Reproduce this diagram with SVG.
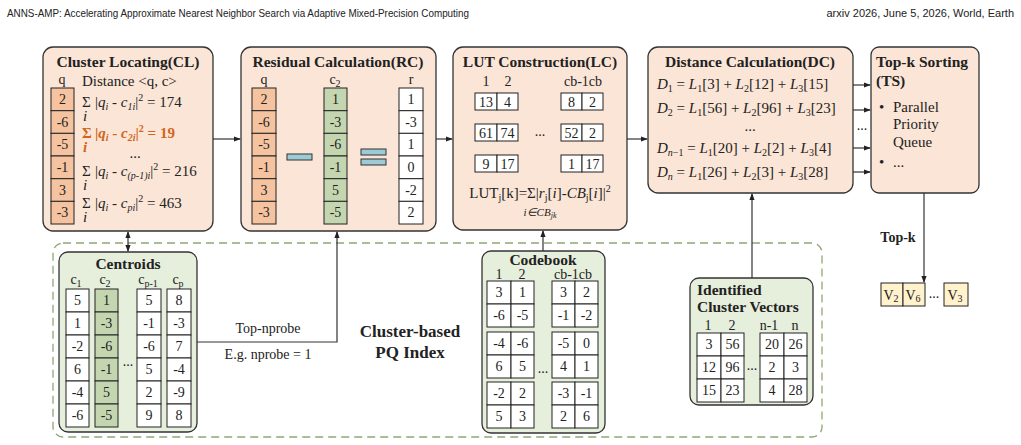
<svg xmlns="http://www.w3.org/2000/svg" width="1021" height="445" viewBox="0 0 1021 445">
<defs>
<marker id="ah" viewBox="0 0 8 8" refX="7" refY="4" markerWidth="6" markerHeight="6" orient="auto-start-reverse"><path d="M0,1 L8,4 L0,7 z" fill="#222"/></marker>
<style>
text{font-family:"Liberation Serif","Times New Roman",serif;fill:#222}
.hdr{font-family:"Liberation Sans",Arial,sans-serif;font-size:11px}
.ttl{font-size:15.5px;font-weight:bold}
.box{fill:#fbe5d6;stroke:#333;stroke-width:1.3}
.gbox{fill:#e6eedc;stroke:#333;stroke-width:1.3}
.c{font-size:14px;text-anchor:middle;dominant-baseline:central}
.lb{font-size:14px;text-anchor:middle}
.w{fill:#fff;stroke:#222;stroke-width:1}
.o{fill:#f5c3a0;stroke:#222;stroke-width:1}
.g{fill:#c4d6b0;stroke:#222;stroke-width:1}
.y{fill:#fff2cc;stroke:#222;stroke-width:1}
.bar{fill:#9ccbd6;stroke:#333;stroke-width:1}
.ln{stroke:#333;stroke-width:1.2;fill:none}
.f{font-size:15px}
.s{font-size:10px}
</style>
</defs>
<text class="hdr" x="7" y="17" textLength="462" lengthAdjust="spacingAndGlyphs">ANNS-AMP: Accelerating Approximate Nearest Neighbor Search via Adaptive Mixed-Precision Computing</text>
<text class="hdr" x="1014" y="17" text-anchor="end">arxiv 2026, June 5, 2026, World, Earth</text>

<rect x="53" y="243" width="769" height="194" rx="10" fill="none" stroke="#8fa874" stroke-width="1.3" stroke-dasharray="8 5"/>
<text x="410" y="337" class="ttl" text-anchor="middle" style="font-size:17px">Cluster-based</text>
<text x="410" y="358" class="ttl" text-anchor="middle" style="font-size:17px">PQ Index</text>

<g id="cl">
<rect class="box" x="43" y="47" width="170" height="184" rx="10"/>
<text class="ttl" x="128" y="67" text-anchor="middle">Cluster Locating(CL)</text>
<text class="lb" x="62" y="84">q</text>
<g class="o"><rect x="51" y="88" width="23" height="22.7"/><rect x="51" y="110.7" width="23" height="22.7"/><rect x="51" y="133.3" width="23" height="22.7"/><rect x="51" y="156" width="23" height="22.7"/><rect x="51" y="178.7" width="23" height="22.7"/><rect x="51" y="201.3" width="23" height="22.7"/></g>
<text class="c" x="62.5" y="99.5">2</text><text class="c" x="62.5" y="122">-6</text><text class="c" x="62.5" y="144.7">-5</text><text class="c" x="62.5" y="167.3">-1</text><text class="c" x="62.5" y="190">3</text><text class="c" x="62.5" y="212.7">-3</text>
<text class="f" x="82" y="86">Distance &lt;q, c&gt;</text>
<text class="f" x="82" y="107">Σ</text><text class="f" x="83" y="121" font-style="italic" font-size="13">i</text>
<text class="f" x="95" y="107">|<tspan font-style="italic">q<tspan class="s" dy="3">i</tspan></tspan><tspan dy="-3"> - </tspan><tspan font-style="italic">c</tspan><tspan class="s" dy="3" font-style="italic">1i</tspan><tspan dy="-3">|</tspan><tspan class="s" dy="-6">2</tspan><tspan dy="6"> = 174</tspan></text>
<text class="f" x="82" y="138" font-weight="bold" style="fill:#d0661e">Σ</text><text class="f" x="83" y="152" font-style="italic" font-weight="bold" style="fill:#d0661e" font-size="13">i</text>
<text class="f" x="95" y="138" font-weight="bold" style="fill:#d0661e">|<tspan font-style="italic">q<tspan class="s" dy="3">i</tspan></tspan><tspan dy="-3"> - </tspan><tspan font-style="italic">c</tspan><tspan class="s" dy="3" font-style="italic">2i</tspan><tspan dy="-3">|</tspan><tspan class="s" dy="-6">2</tspan><tspan dy="6"> = 19</tspan></text>
<text class="f" x="135" y="158" text-anchor="middle">...</text>
<text class="f" x="82" y="176">Σ</text><text class="f" x="83" y="190" font-style="italic" font-size="13">i</text>
<text class="f" x="95" y="176">|<tspan font-style="italic">q<tspan class="s" dy="3">i</tspan></tspan><tspan dy="-3"> - </tspan><tspan font-style="italic">c</tspan><tspan class="s" dy="3" font-style="italic">(p-1)i</tspan><tspan dy="-3">|</tspan><tspan class="s" dy="-6">2</tspan><tspan dy="6"> = 216</tspan></text>
<text class="f" x="82" y="208">Σ</text><text class="f" x="83" y="222" font-style="italic" font-size="13">i</text>
<text class="f" x="95" y="208">|<tspan font-style="italic">q<tspan class="s" dy="3">i</tspan></tspan><tspan dy="-3"> - </tspan><tspan font-style="italic">c</tspan><tspan class="s" dy="3" font-style="italic">pi</tspan><tspan dy="-3">|</tspan><tspan class="s" dy="-6">2</tspan><tspan dy="6"> = 463</tspan></text>
</g>

<g id="rc">
<rect class="box" x="241" y="47" width="195" height="184" rx="10"/>
<text class="ttl" x="338" y="67" text-anchor="middle">Residual Calculation(RC)</text>
<text class="lb" x="264" y="84">q</text><text class="lb" x="335" y="84">c<tspan class="s" dy="3">2</tspan></text><text class="lb" x="411" y="84">r</text>
<g class="o"><rect x="252" y="88" width="24" height="22.7"/><rect x="252" y="110.7" width="24" height="22.7"/><rect x="252" y="133.3" width="24" height="22.7"/><rect x="252" y="156" width="24" height="22.7"/><rect x="252" y="178.7" width="24" height="22.7"/><rect x="252" y="201.3" width="24" height="22.7"/></g>
<g class="g"><rect x="324" y="88" width="23" height="22.7"/><rect x="324" y="110.7" width="23" height="22.7"/><rect x="324" y="133.3" width="23" height="22.7"/><rect x="324" y="156" width="23" height="22.7"/><rect x="324" y="178.7" width="23" height="22.7"/><rect x="324" y="201.3" width="23" height="22.7"/></g>
<g class="w"><rect x="399" y="88" width="24" height="22.7"/><rect x="399" y="110.7" width="24" height="22.7"/><rect x="399" y="133.3" width="24" height="22.7"/><rect x="399" y="156" width="24" height="22.7"/><rect x="399" y="178.7" width="24" height="22.7"/><rect x="399" y="201.3" width="24" height="22.7"/></g>
<text class="c" x="264" y="99.5">2</text><text class="c" x="264" y="122">-6</text><text class="c" x="264" y="144.7">-5</text><text class="c" x="264" y="167.3">-1</text><text class="c" x="264" y="190">3</text><text class="c" x="264" y="212.7">-3</text>
<text class="c" x="335.5" y="99.5">1</text><text class="c" x="335.5" y="122">-3</text><text class="c" x="335.5" y="144.7">-6</text><text class="c" x="335.5" y="167.3">-1</text><text class="c" x="335.5" y="190">5</text><text class="c" x="335.5" y="212.7">-5</text>
<text class="c" x="411" y="99.5">1</text><text class="c" x="411" y="122">-3</text><text class="c" x="411" y="144.7">1</text><text class="c" x="411" y="167.3">0</text><text class="c" x="411" y="190">-2</text><text class="c" x="411" y="212.7">2</text>
<rect class="bar" x="287" y="154" width="25" height="6"/>
<rect class="bar" x="361" y="149" width="25" height="6"/><rect class="bar" x="361" y="159" width="25" height="6"/>
</g>

<g id="lc">
<rect class="box" x="453" y="47" width="174" height="183" rx="10"/>
<text class="ttl" x="540" y="67" text-anchor="middle">LUT Construction(LC)</text>
<text class="lb" x="486" y="86">1</text><text class="lb" x="508" y="86">2</text><text class="lb" x="583" y="86">cb-1cb</text>
<g class="w">
<rect x="475" y="93" width="22" height="17"/><rect x="497" y="93" width="21" height="17"/><rect x="561" y="93" width="21" height="17"/><rect x="582" y="93" width="21" height="17"/>
<rect x="475" y="124" width="22" height="17"/><rect x="497" y="124" width="21" height="17"/><rect x="561" y="124" width="21" height="17"/><rect x="582" y="124" width="21" height="17"/>
<rect x="475" y="155" width="22" height="17"/><rect x="497" y="155" width="21" height="17"/><rect x="561" y="155" width="21" height="17"/><rect x="582" y="155" width="21" height="17"/>
</g>
<text class="c" x="486" y="102">13</text><text class="c" x="507.5" y="102">4</text><text class="c" x="571.5" y="102">8</text><text class="c" x="592.5" y="102">2</text>
<text class="c" x="486" y="133">61</text><text class="c" x="507.5" y="133">74</text><text class="c" x="571.5" y="133">52</text><text class="c" x="592.5" y="133">2</text>
<text class="c" x="486" y="164">9</text><text class="c" x="507.5" y="164">17</text><text class="c" x="571.5" y="164">1</text><text class="c" x="592.5" y="164">17</text>
<text class="lb" x="540" y="136">...</text>
<text class="f" x="540" y="198" text-anchor="middle">LUT<tspan class="s" dy="3">j</tspan><tspan dy="-3">[k]=Σ|</tspan><tspan font-style="italic">r</tspan><tspan class="s" dy="3">j</tspan><tspan dy="-3">[</tspan><tspan font-style="italic">i</tspan>]-<tspan font-style="italic">CB</tspan><tspan class="s" dy="3">j</tspan><tspan dy="-3">[</tspan><tspan font-style="italic">i</tspan>]|<tspan class="s" dy="-6">2</tspan></text>
<text x="540" y="216" text-anchor="middle" font-size="11" font-style="italic">i∈CB<tspan font-size="8" dy="2">jk</tspan></text>
</g>

<g id="dc">
<rect class="box" x="648" y="47" width="205" height="146" rx="10"/>
<text class="ttl" x="750" y="67" text-anchor="middle">Distance Calculation(DC)</text>
<text class="f" x="657" y="89"><tspan font-style="italic">D</tspan><tspan class="s" dy="3">1</tspan><tspan dy="-3"> = </tspan><tspan font-style="italic">L</tspan><tspan class="s" dy="3">1</tspan><tspan dy="-3">[3] + </tspan><tspan font-style="italic">L</tspan><tspan class="s" dy="3">2</tspan><tspan dy="-3">[12] + </tspan><tspan font-style="italic">L</tspan><tspan class="s" dy="3">3</tspan><tspan dy="-3">[15]</tspan></text>
<text class="f" x="657" y="113"><tspan font-style="italic">D</tspan><tspan class="s" dy="3">2</tspan><tspan dy="-3"> = </tspan><tspan font-style="italic">L</tspan><tspan class="s" dy="3">1</tspan><tspan dy="-3">[56] + </tspan><tspan font-style="italic">L</tspan><tspan class="s" dy="3">2</tspan><tspan dy="-3">[96] + </tspan><tspan font-style="italic">L</tspan><tspan class="s" dy="3">3</tspan><tspan dy="-3">[23]</tspan></text>
<text class="f" x="750" y="131" text-anchor="middle">...</text>
<text class="f" x="657" y="153"><tspan font-style="italic">D</tspan><tspan class="s" dy="3" font-style="italic">n</tspan><tspan class="s">−1</tspan><tspan dy="-3"> = </tspan><tspan font-style="italic">L</tspan><tspan class="s" dy="3">1</tspan><tspan dy="-3">[20] + </tspan><tspan font-style="italic">L</tspan><tspan class="s" dy="3">2</tspan><tspan dy="-3">[2] + </tspan><tspan font-style="italic">L</tspan><tspan class="s" dy="3">3</tspan><tspan dy="-3">[4]</tspan></text>
<text class="f" x="657" y="177"><tspan font-style="italic">D</tspan><tspan class="s" dy="3" font-style="italic">n</tspan><tspan dy="-3"> = </tspan><tspan font-style="italic">L</tspan><tspan class="s" dy="3">1</tspan><tspan dy="-3">[26] + </tspan><tspan font-style="italic">L</tspan><tspan class="s" dy="3">2</tspan><tspan dy="-3">[3] + </tspan><tspan font-style="italic">L</tspan><tspan class="s" dy="3">3</tspan><tspan dy="-3">[28]</tspan></text>
</g>

<g id="ts">
<rect class="box" x="871" y="47" width="108" height="146" rx="8"/>
<text class="ttl" x="876" y="67">Top-k Sorting</text>
<text class="ttl" x="876" y="86">(TS)</text>
<text class="f" x="879" y="112">•</text><text class="f" x="893" y="112">Parallel</text>
<text class="f" x="893" y="129">Priority</text>
<text class="f" x="893" y="147">Queue</text>
<text class="f" x="879" y="167">•</text><text class="f" x="893" y="167">...</text>
</g>

<g id="topk">
<rect class="y" x="881" y="283" width="22" height="23"/><rect class="y" x="903" y="283" width="22" height="23"/><rect class="y" x="944" y="283" width="24" height="23"/>
<text class="c" x="891" y="295">V<tspan class="s" dy="3">2</tspan></text>
<text class="c" x="913" y="295">V<tspan class="s" dy="3">6</tspan></text>
<text class="c" x="934" y="293">...</text>
<text class="c" x="955" y="295">V<tspan class="s" dy="3">3</tspan></text>
</g>

<g id="centroids">
<rect class="gbox" x="59" y="252" width="138" height="180" rx="9"/>
<text class="ttl" x="128" y="269" text-anchor="middle">Centroids</text>
<text class="lb" x="76" y="284">c<tspan class="s" dy="3">1</tspan></text>
<text class="lb" x="105" y="284">c<tspan class="s" dy="3">2</tspan></text>
<text class="lb" x="148" y="284">c<tspan class="s" dy="3">p-1</tspan></text>
<text class="lb" x="178" y="284">c<tspan class="s" dy="3">p</tspan></text>
<g class="w"><rect x="66" y="289" width="23" height="23"/><rect x="66" y="312" width="23" height="23"/><rect x="66" y="335" width="23" height="23"/><rect x="66" y="358" width="23" height="23"/><rect x="66" y="381" width="23" height="23"/><rect x="66" y="404" width="23" height="23"/>
<rect x="137" y="289" width="24" height="23"/><rect x="137" y="312" width="24" height="23"/><rect x="137" y="335" width="24" height="23"/><rect x="137" y="358" width="24" height="23"/><rect x="137" y="381" width="24" height="23"/><rect x="137" y="404" width="24" height="23"/>
<rect x="167" y="289" width="24" height="23"/><rect x="167" y="312" width="24" height="23"/><rect x="167" y="335" width="24" height="23"/><rect x="167" y="358" width="24" height="23"/><rect x="167" y="381" width="24" height="23"/><rect x="167" y="404" width="24" height="23"/></g>
<g class="g"><rect x="95" y="289" width="23" height="23"/><rect x="95" y="312" width="23" height="23"/><rect x="95" y="335" width="23" height="23"/><rect x="95" y="358" width="23" height="23"/><rect x="95" y="381" width="23" height="23"/><rect x="95" y="404" width="23" height="23"/></g>
<text class="c" x="77.5" y="300.5">5</text><text class="c" x="77.5" y="323.5">1</text><text class="c" x="77.5" y="346.5">-2</text><text class="c" x="77.5" y="369.5">6</text><text class="c" x="77.5" y="392.5">-4</text><text class="c" x="77.5" y="415.5">-6</text>
<text class="c" x="106.5" y="300.5">1</text><text class="c" x="106.5" y="323.5">-3</text><text class="c" x="106.5" y="346.5">-6</text><text class="c" x="106.5" y="369.5">-1</text><text class="c" x="106.5" y="392.5">5</text><text class="c" x="106.5" y="415.5">-5</text>
<text class="c" x="149" y="300.5">5</text><text class="c" x="149" y="323.5">-1</text><text class="c" x="149" y="346.5">-6</text><text class="c" x="149" y="369.5">5</text><text class="c" x="149" y="392.5">2</text><text class="c" x="149" y="415.5">9</text>
<text class="c" x="179" y="300.5">8</text><text class="c" x="179" y="323.5">-3</text><text class="c" x="179" y="346.5">7</text><text class="c" x="179" y="369.5">-4</text><text class="c" x="179" y="392.5">-9</text><text class="c" x="179" y="415.5">8</text>
<text class="lb" x="128" y="366">...</text>
</g>

<g id="codebook">
<rect class="gbox" x="482" y="251" width="123" height="182" rx="9"/>
<text class="ttl" x="543" y="265" text-anchor="middle">Codebook</text>
<text class="lb" x="499" y="279">1</text><text class="lb" x="522" y="279">2</text><text class="lb" x="573" y="279">cb-1cb</text>
<g class="w">
<rect x="487" y="281" width="24" height="23"/><rect x="511" y="281" width="23" height="23"/><rect x="487" y="304" width="24" height="23"/><rect x="511" y="304" width="23" height="23"/>
<rect x="552" y="281" width="23" height="23"/><rect x="575" y="281" width="23" height="23"/><rect x="552" y="304" width="23" height="23"/><rect x="575" y="304" width="23" height="23"/>
<rect x="487" y="332" width="24" height="23"/><rect x="511" y="332" width="23" height="23"/><rect x="487" y="355" width="24" height="23"/><rect x="511" y="355" width="23" height="23"/>
<rect x="552" y="332" width="23" height="23"/><rect x="575" y="332" width="23" height="23"/><rect x="552" y="355" width="23" height="23"/><rect x="575" y="355" width="23" height="23"/>
<rect x="487" y="382" width="24" height="23"/><rect x="511" y="382" width="23" height="23"/><rect x="487" y="405" width="24" height="23"/><rect x="511" y="405" width="23" height="23"/>
<rect x="552" y="382" width="23" height="23"/><rect x="575" y="382" width="23" height="23"/><rect x="552" y="405" width="23" height="23"/><rect x="575" y="405" width="23" height="23"/>
</g>
<text class="c" x="499" y="292.5">3</text><text class="c" x="522.5" y="292.5">1</text><text class="c" x="563.5" y="292.5">3</text><text class="c" x="586.5" y="292.5">2</text>
<text class="c" x="499" y="315.5">-6</text><text class="c" x="522.5" y="315.5">-5</text><text class="c" x="563.5" y="315.5">-1</text><text class="c" x="586.5" y="315.5">-2</text>
<text class="c" x="499" y="343.5">-4</text><text class="c" x="522.5" y="343.5">-6</text><text class="c" x="563.5" y="343.5">-5</text><text class="c" x="586.5" y="343.5">0</text>
<text class="c" x="499" y="366.5">6</text><text class="c" x="522.5" y="366.5">5</text><text class="c" x="563.5" y="366.5">4</text><text class="c" x="586.5" y="366.5">1</text>
<text class="c" x="499" y="393.5">-2</text><text class="c" x="522.5" y="393.5">2</text><text class="c" x="563.5" y="393.5">-3</text><text class="c" x="586.5" y="393.5">-1</text>
<text class="c" x="499" y="416.5">5</text><text class="c" x="522.5" y="416.5">3</text><text class="c" x="563.5" y="416.5">2</text><text class="c" x="586.5" y="416.5">6</text>
<text class="lb" x="543" y="373">...</text>
</g>

<g id="vectors">
<rect class="gbox" x="690" y="278" width="123" height="127" rx="9"/>
<text class="ttl" x="697" y="295">Identified</text>
<text class="ttl" x="697" y="312">Cluster Vectors</text>
<text class="lb" x="708" y="330">1</text><text class="lb" x="732" y="330">2</text><text class="lb" x="769" y="330">n-1</text><text class="lb" x="795" y="330">n</text>
<g class="w">
<rect x="697" y="333" width="24" height="23"/><rect x="721" y="333" width="23" height="23"/><rect x="760" y="333" width="24" height="23"/><rect x="784" y="333" width="23" height="23"/>
<rect x="697" y="356" width="24" height="23"/><rect x="721" y="356" width="23" height="23"/><rect x="760" y="356" width="24" height="23"/><rect x="784" y="356" width="23" height="23"/>
<rect x="697" y="379" width="24" height="23"/><rect x="721" y="379" width="23" height="23"/><rect x="760" y="379" width="24" height="23"/><rect x="784" y="379" width="23" height="23"/>
</g>
<text class="c" x="709" y="344.5">3</text><text class="c" x="732.5" y="344.5">56</text><text class="c" x="772" y="344.5">20</text><text class="c" x="795.5" y="344.5">26</text>
<text class="c" x="709" y="367.5">12</text><text class="c" x="732.5" y="367.5">96</text><text class="c" x="772" y="367.5">2</text><text class="c" x="795.5" y="367.5">3</text>
<text class="c" x="709" y="390.5">15</text><text class="c" x="732.5" y="390.5">23</text><text class="c" x="772" y="390.5">4</text><text class="c" x="795.5" y="390.5">28</text>
<text class="lb" x="752" y="370">...</text>
</g>

<g id="connectors">
<line class="ln" x1="213" y1="139" x2="240" y2="139" marker-end="url(#ah)"/>
<line class="ln" x1="436" y1="139" x2="452" y2="139" marker-end="url(#ah)"/>
<line class="ln" x1="627" y1="139" x2="647" y2="139" marker-end="url(#ah)"/>
<line class="ln" x1="853" y1="85" x2="870" y2="85" marker-end="url(#ah)"/>
<line class="ln" x1="853" y1="110" x2="870" y2="110" marker-end="url(#ah)"/>
<line class="ln" x1="853" y1="148" x2="870" y2="148" marker-end="url(#ah)"/>
<line class="ln" x1="853" y1="172" x2="870" y2="172" marker-end="url(#ah)"/>
<text class="lb" x="862" y="130">...</text>
<line class="ln" x1="924" y1="193" x2="924" y2="282" marker-end="url(#ah)"/>
<text class="ttl" x="898" y="242" text-anchor="middle" style="font-size:14px">Top-k</text>
<line class="ln" x1="128" y1="232" x2="128" y2="251" marker-start="url(#ah)" marker-end="url(#ah)"/>
<polyline class="ln" points="197,342 337,342 337,232" marker-end="url(#ah)"/>
<text class="lb" x="268" y="333">Top-nprobe</text>
<text class="lb" x="268" y="359">E.g. nprobe = 1</text>
<line class="ln" x1="543" y1="251" x2="543" y2="231" marker-end="url(#ah)"/>
<line class="ln" x1="752" y1="278" x2="752" y2="194" marker-end="url(#ah)"/>
</g>
</svg>
